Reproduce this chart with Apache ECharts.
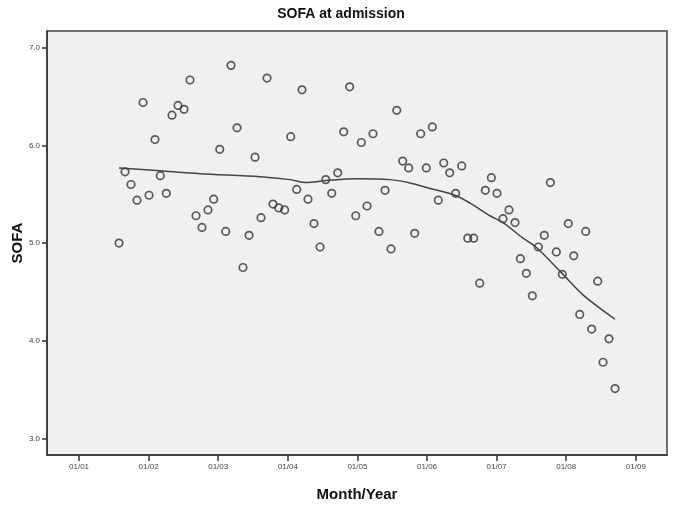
<!DOCTYPE html>
<html>
<head>
<meta charset="utf-8">
<script src="https://cdn.jsdelivr.net/npm/echarts@6/dist/echarts.min.js"></script>
<style>html,body{margin:0;padding:0;background:#fff;}#c{width:682px;height:508px;}</style>
</head>
<body>
<div id="c"></div>
<script>
// x = years since 01/2001, y = SOFA
const xVals = [0.575,0.661,0.747,0.833,0.920,1.006,1.092,1.168,1.254,1.336,1.422,1.509,1.595,1.681,1.767,1.853,1.935,2.022,2.108,2.184,2.270,2.356,2.443,2.529,2.615,2.701,2.787,2.869,2.955,3.042,3.128,3.204,3.290,3.376,3.463,3.545,3.631,3.717,3.803,3.889,3.976,4.056,4.138,4.224,4.310,4.397,4.483,4.565,4.651,4.737,4.823,4.909,4.990,5.076,5.162,5.240,5.326,5.412,5.499,5.585,5.671,5.757,5.838,5.924,6.006,6.092,6.178,6.264,6.341,6.427,6.513,6.599,6.685,6.772,6.858,6.944,7.030,7.108,7.194,7.280,7.366,7.453,7.529,7.615,7.701];
const sofaVals = [5.00,5.73,5.60,5.44,6.44,5.49,6.06,5.69,5.51,6.31,6.41,6.37,6.67,5.28,5.16,5.34,5.45,5.96,5.12,6.82,6.18,4.75,5.08,5.88,5.26,6.69,5.40,5.36,5.34,6.09,5.55,6.57,5.45,5.20,4.96,5.65,5.51,5.72,6.14,6.60,5.28,6.03,5.38,6.12,5.12,5.54,4.94,6.36,5.84,5.77,5.10,6.12,5.77,6.19,5.44,5.82,5.72,5.51,5.79,5.05,5.05,4.59,5.54,5.67,5.51,5.25,5.34,5.21,4.84,4.69,4.46,4.96,5.08,5.62,4.91,4.68,5.20,4.87,4.27,5.12,4.12,4.61,3.78,4.02,3.51];
const fitX = [0.575,1.164,1.739,2.601,3.032,3.261,3.549,3.994,4.468,4.727,5.043,5.402,5.618,5.905,6.092,6.379,6.580,6.940,7.241,7.701];
const fitY = [5.77,5.74,5.71,5.68,5.65,5.62,5.64,5.66,5.65,5.62,5.56,5.49,5.41,5.28,5.21,5.05,4.95,4.69,4.47,4.22];
const xTickLabels = ['01/01','01/02','01/03','01/04','01/05','01/06','01/07','01/08','01/09'];
const yTickValues = [3,4,5,6,7];

const chart = echarts.init(document.getElementById('c'), null, {renderer:'canvas'});
const xTickPos = xTickLabels.map((_, i) => i);
const font = 'Liberation Sans, Arial, sans-serif';
chart.setOption({
  animation: false,
  backgroundColor: '#ffffff',
  title: {
    text: 'SOFA at admission', left: 'center', top: 2,
    textStyle: {fontFamily: font, fontSize: 14, fontWeight: 'bold', color: '#111'}
  },
  grid: {left: 47, right: 15, top: 31, bottom: 53, outerBoundsMode: 'none', containLabel: false, show: true, backgroundColor: '#f0f0f0', borderColor: '#444', borderWidth: 1.5},
  xAxis: {
    type: 'value', min: -0.46, max: 8.448,
    name: 'Month/Year', nameLocation: 'middle', nameGap: 32, nameMoveOverlap: false,
    nameTextStyle: {fontFamily: font, fontSize: 15, fontWeight: 'bold', color: '#111'},
    axisLine: {show: true, onZero: false, lineStyle: {color: '#333', width: 1.5}},
    axisTick: {show: true, length: 6, customValues: xTickPos, lineStyle: {color: '#333', width: 1.5}},
    axisLabel: {customValues: xTickPos, formatter: v => xTickLabels[Math.round(v)], fontFamily: font, fontSize: 8, color: '#444', margin: 8},
    splitLine: {show: false}
  },
  yAxis: {
    type: 'value', min: 2.83, max: 7.172,
    name: 'SOFA', nameLocation: 'middle', nameGap: 22, nameMoveOverlap: false,
    nameTextStyle: {fontFamily: font, fontSize: 15, fontWeight: 'bold', color: '#111'},
    axisLine: {show: true, onZero: false, lineStyle: {color: '#333', width: 1.5}},
    axisTick: {show: true, length: 5, customValues: yTickValues, lineStyle: {color: '#333', width: 1.5}},
    axisLabel: {customValues: yTickValues, formatter: v => v.toFixed(1), fontFamily: font, fontSize: 8, color: '#444', margin: 7},
    splitLine: {show: false}
  },
  series: [
    {
      type: 'scatter', data: xVals.map((x, i) => [x, sofaVals[i]]),
      symbol: 'circle', symbolSize: 7.5,
      itemStyle: {color: 'rgba(0,0,0,0)', borderColor: '#333', borderWidth: 1.7}
    },
    {
      type: 'line', data: fitX.map((x, i) => [x, fitY[i]]),
      showSymbol: false, smooth: 0.3,
      lineStyle: {color: '#444', width: 1.5}
    }
  ]
});
</script>
</body>
</html>
